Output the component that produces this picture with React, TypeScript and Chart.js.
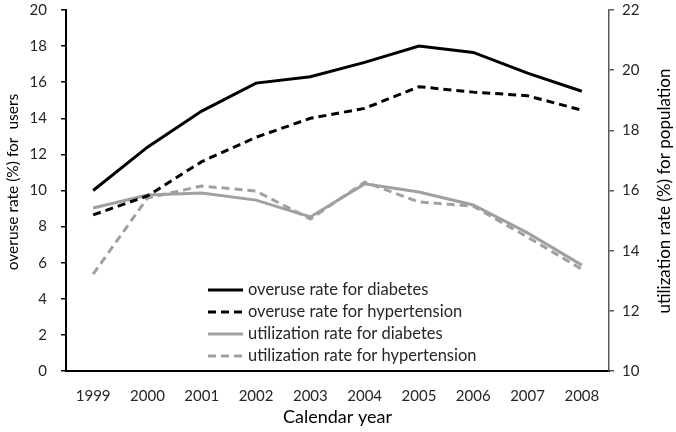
import React, { useEffect, useRef } from 'react';
import { Chart, registerables } from 'chart.js';

Chart.register(...registerables);

const years = ['1999', '2000', '2001', '2002', '2003', '2004', '2005', '2006', '2007', '2008'];
const overuseDiabetes = [10.0, 12.4, 14.4, 15.95, 16.3, 17.1, 18.0, 17.65, 16.5, 15.5];
const overuseHypertension = [8.65, 9.7, 11.6, 12.95, 14.0, 14.55, 15.75, 15.45, 15.25, 14.45];
const utilDiabetes = [15.42, 15.85, 15.92, 15.68, 15.12, 16.22, 15.95, 15.52, 14.59, 13.52];
const utilHypertension = [13.22, 15.75, 16.15, 15.98, 15.05, 16.28, 15.62, 15.48, 14.45, 13.38];

const leftTitle = 'overuse rate (%) for  users';
const rightTitle = 'utilization rate (%) for population';
const xTitle = 'Calendar year';

const FONT = "Lato, 'Open Sans', sans-serif";
const TICK_SIZE = 15;
const LEGEND_SIZE = 16.5;
const X_TITLE_SIZE = 18;
const LEFT_TITLE_SIZE = 15.5;
const RIGHT_TITLE_SIZE = 17;

const legendPlugin = {
  id: 'insideLegend',
  afterDatasetsDraw(chart: any) {
    const { ctx, chartArea } = chart;
    const x0 = chartArea.left + 142;
    const x1 = x0 + 35;
    const tx = x1 + 5;
    const rowY = [chartArea.bottom - 81, chartArea.bottom - 59, chartArea.bottom - 37, chartArea.bottom - 15];
    ctx.save();
    chart.data.datasets.forEach((ds: any, i: number) => {
      const y = rowY[i];
      ctx.beginPath();
      ctx.strokeStyle = ds.borderColor;
      ctx.lineWidth = ds.borderWidth;
      ctx.setLineDash(ds.borderDash || []);
      ctx.moveTo(x0, y);
      ctx.lineTo(x1, y);
      ctx.stroke();
      ctx.setLineDash([]);
      ctx.fillStyle = '#262626';
      ctx.font = `${LEGEND_SIZE}px ${FONT}`;
      ctx.textBaseline = 'middle';
      ctx.textAlign = 'left';
      ctx.fillText(ds.label, tx, y);
    });
    ctx.restore();
  },
};

const yTitlesPlugin = {
  id: 'yTitles',
  afterDraw(chart: any) {
    const { ctx, chartArea } = chart;
    ctx.save();
    ctx.fillStyle = '#000000';
    ctx.textAlign = 'center';
    ctx.textBaseline = 'middle';
    ctx.save();
    ctx.font = `${LEFT_TITLE_SIZE}px ${FONT}`;
    ctx.translate(chartArea.left - 53, chartArea.top + 172);
    ctx.rotate(-Math.PI / 2);
    ctx.fillText(leftTitle, 0, 0);
    ctx.restore();
    ctx.save();
    ctx.font = `${RIGHT_TITLE_SIZE}px ${FONT}`;
    ctx.translate(chartArea.right + 56, chartArea.top + 181);
    ctx.rotate(-Math.PI / 2);
    ctx.fillText(rightTitle, 0, 0);
    ctx.restore();
    ctx.restore();
  },
};

export default function App() {
  const ref = useRef<HTMLCanvasElement>(null);
  useEffect(() => {
    if (!ref.current) return;
    const chart = new Chart(ref.current, {
      type: 'line',
      data: {
        labels: years,
        datasets: [
          { label: 'overuse rate for diabetes', data: overuseDiabetes, yAxisID: 'y', borderColor: '#000000', borderWidth: 3, pointRadius: 0, fill: false, tension: 0 },
          { label: 'overuse rate for hypertension', data: overuseHypertension, yAxisID: 'y', borderColor: '#000000', borderWidth: 3, borderDash: [8, 5], pointRadius: 0, fill: false, tension: 0 },
          { label: 'utilization rate for diabetes', data: utilDiabetes, yAxisID: 'y2', borderColor: '#a0a0a0', borderWidth: 3, pointRadius: 0, fill: false, tension: 0 },
          { label: 'utilization rate for hypertension', data: utilHypertension, yAxisID: 'y2', borderColor: '#a0a0a0', borderWidth: 3, borderDash: [8, 5], pointRadius: 0, fill: false, tension: 0 },
        ],
      },
      options: {
        responsive: false,
        animation: false,
        layout: { padding: { top: 10, left: 0, right: 0, bottom: 0 } },
        plugins: { legend: { display: false }, tooltip: { enabled: false } },
        scales: {
          x: {
            offset: true,
            grid: { display: false },
            border: { display: true, color: '#000000', width: 2 },
            ticks: { color: '#262626', font: { family: FONT, size: TICK_SIZE }, padding: 8 },
            title: { display: true, text: xTitle, color: '#000000', font: { family: FONT, size: X_TITLE_SIZE }, padding: { top: 4 } },
            afterFit: (s: any) => { s.height = 61; s.paddingLeft = 0; s.paddingRight = 0; },
          },
          y: {
            position: 'left',
            min: 0,
            max: 20,
            ticks: { stepSize: 2, color: '#262626', font: { family: FONT, size: TICK_SIZE }, padding: 14 },
            grid: { display: true, drawOnChartArea: false, drawTicks: true, tickLength: 5, color: '#000000', lineWidth: 1.5 },
            border: { display: true, color: '#000000', width: 2 },
            title: { display: false },
            afterFit: (s: any) => { s.width = 66; s.paddingTop = 0; s.paddingBottom = 0; },
          },
          y2: {
            position: 'right',
            min: 10,
            max: 22,
            ticks: { stepSize: 2, color: '#262626', font: { family: FONT, size: TICK_SIZE }, padding: 8 },
            grid: { display: true, drawOnChartArea: false, drawTicks: true, tickLength: 5, color: '#595959', lineWidth: 1.5 },
            border: { display: true, color: '#595959', width: 1.5 },
            title: { display: false },
            afterFit: (s: any) => { s.width = 67; s.paddingTop = 0; s.paddingBottom = 0; },
          },
        },
      },
      plugins: [legendPlugin, yTitlesPlugin],
    });
    return () => chart.destroy();
  }, []);
  return (
    <div style={{ position: 'fixed', left: 0, top: 0, width: 676, height: 432, background: '#ffffff' }}>
      <canvas ref={ref} width={676} height={432} style={{ display: 'block' }} />
    </div>
  );
}
